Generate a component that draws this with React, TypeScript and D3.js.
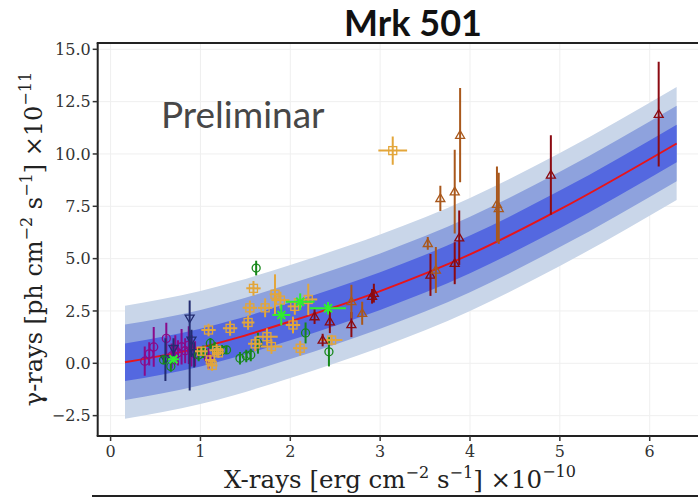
import React from 'react';
import * as d3 from 'd3';

// fit curve
const fitX = [0.16, 1, 1.385, 2, 3, 4, 5, 6.3];
const fitY = [0.05, 0.75, 1.19, 2.0, 3.45, 5.2, 7.35, 10.5];
const bandHalfWidths = [2.7, 1.8, 0.9];
const bandColors = ['#c9d6e9', '#8ea2dd', '#5468e0'];

// [x, y, yerr]
const darkRed = [
    [2.27, 2.23, 0.35], [2.36, 1.11, 0.3], [2.44, 1.99, 0.55], [2.68, 1.85, 0.6],
    [2.91, 3.2, 0.35], [2.93, 3.35, 0.45], [3.56, 4.22, 1.0], [3.83, 4.78, 1.0],
    [3.88, 6.0, 1.3], [4.9, 9.0, 1.9], [6.1, 11.9, 2.5],
];
const brown = [
    [2.68, 2.95, 0.8], [2.8, 2.39, 0.55], [3.53, 5.73, 0.3], [3.62, 4.46, 1.1],
    [3.67, 7.88, 0.6], [3.83, 8.2, 2.0], [3.89, 10.9, 2.25], [4.3, 7.6, 1.8], [4.32, 7.4, 1.7],
];
// [x, y, xerr, yerr]
const orange = [
    [1.01, 0.58, 0.07, 0.2], [1.09, 1.59, 0.08, 0.3], [1.11, 0.16, 0.06, 0.25], [1.13, -0.1, 0.06, 0.25],
    [1.18, 0.62, 0.08, 0.3], [1.2, 0.5, 0.06, 0.25], [1.33, 1.67, 0.08, 0.35], [1.53, 1.95, 0.07, 0.35],
    [1.55, 2.65, 0.08, 0.35], [1.59, 3.58, 0.08, 0.35], [1.61, 0.93, 0.08, 0.35], [1.72, 2.65, 0.08, 0.45],
    [1.74, 1.27, 0.12, 0.4], [1.79, 0.8, 0.12, 0.35], [1.83, 3.3, 0.06, 0.95], [1.89, 3.02, 0.1, 0.4],
    [2.03, 1.83, 0.08, 0.4], [2.05, 2.72, 0.08, 0.4], [2.11, 0.72, 0.08, 0.35], [2.2, 3.05, 0.1, 0.75],
    [2.46, 1.11, 0.12, 0.25], [3.14, 10.16, 0.16, 0.68],
];
const green = [
    [0.59, 0.16, 0.2], [0.67, -0.15, 0.25], [0.98, 0.4, 0.3], [1.03, 0.55, 0.3], [1.11, 0.96, 0.25],
    [1.16, 0.72, 0.3], [1.24, 0.62, 0.25], [1.29, 0.64, 0.2], [1.44, 0.24, 0.3], [1.51, 0.35, 0.3],
    [1.56, 0.4, 0.3], [1.62, 4.55, 0.35], [1.64, 0.96, 0.5], [2.17, 1.45, 0.5], [2.43, 0.55, 0.7],
];
const lime = [
    [0.7, 0.19, 0.06, 0.15], [1.9, 2.31, 0.1, 0.5], [2.11, 2.94, 0.16, 0.4], [2.42, 2.63, 0.2, 0.3],
];
const purple = [
    [0.38, 0.1, 0.7], [0.43, 0.45, 0.55], [0.48, 0.78, 0.95], [0.62, 1.19, 0.75], [0.68, 0.35, 0.6],
    [0.72, 0.64, 0.7], [0.75, 0.5, 0.6], [0.79, 0.79, 0.85], [0.83, 0.6, 0.6], [0.87, 0.87, 0.9],
    [0.9, 0.6, 0.75], [0.94, 0.45, 0.6], [1.09, 0.24, 0.5],
];
// [x, y, low, high]
const navy = [
    [0.61, 0.2, -0.85, 1.2], [0.7, 0.7, 0.2, 1.2], [0.88, 2.15, -1.3, 3.0], [0.9, 1.1, 0.3, 1.6], [0.93, 0.5, -0.2, 1.0],
];

const xTicks = [0, 1, 2, 3, 4, 5, 6];
const yTicks = [-2.5, 0, 2.5, 5, 7.5, 10, 12.5, 15];

const W = 698, H = 498;
const left = 97.7, top = 43, bottom = 436, right = 698;

const App = () => {
    const x = d3.scaleLinear().domain([0, 6]).range([110.6, 649.7]);
    const y = d3.scaleLinear().domain([0, 15]).range([363.3, 49.3]);

    const fit = fitX.map((v, i) => [v, fitY[i]] as [number, number]);
    const line = d3.line<[number, number]>().x(d => x(d[0])).y(d => y(d[1])).curve(d3.curveMonotoneX);
    const band = (k: number) => d3.area<[number, number]>()
        .x(d => x(d[0])).y0(d => y(d[1] - k)).y1(d => y(d[1] + k)).curve(d3.curveMonotoneX)(fit)!;

    const tri = (cx: number, cy: number, up: boolean, s = 4.5) => up
        ? `M${cx},${cy - s}L${cx + s},${cy + s * 0.7}L${cx - s},${cy + s * 0.7}Z`
        : `M${cx},${cy + s}L${cx + s},${cy - s * 0.7}L${cx - s},${cy - s * 0.7}Z`;

    const fmt = d3.format('.1f');
    const serif = 'DejaVu Serif, serif';

    return (
        <svg width={W} height={H} style={{position: 'absolute', left: 0, top: 0, background: '#fff'}}>
            <defs>
                <clipPath id="plot"><rect x={left} y={top} width={right - left} height={bottom - top}/></clipPath>
            </defs>
            {/* grid */}
            <g stroke="#efefef" strokeWidth={1}>
                {xTicks.map(t => <line key={'gx' + t} x1={x(t)} x2={x(t)} y1={top} y2={bottom}/>)}
                {yTicks.map(t => <line key={'gy' + t} x1={left} x2={right} y1={y(t)} y2={y(t)}/>)}
            </g>
            <g clipPath="url(#plot)">
                {bandHalfWidths.map((k, i) => <path key={k} d={band(k)} fill={bandColors[i]}/>)}
                <path d={line(fit)!} fill="none" stroke="#e8141a" strokeWidth={2}/>

                {/* purple circles */}
                <g stroke="#8a0a8a" strokeWidth={2} fill="none">
                    {purple.map((d, i) => <g key={i}>
                        <line x1={x(d[0])} x2={x(d[0])} y1={y(d[1] - d[2])} y2={y(d[1] + d[2])}/>
                        <circle cx={x(d[0])} cy={y(d[1])} r={4} strokeWidth={1.3}/>
                    </g>)}
                </g>
                {/* navy down triangles */}
                <g stroke="#232c70" strokeWidth={2} fill="none">
                    {navy.map((d, i) => <g key={i}>
                        <line x1={x(d[0])} x2={x(d[0])} y1={y(d[2])} y2={y(d[3])}/>
                        <path d={tri(x(d[0]), y(d[1]), false)} strokeWidth={1.3}/>
                    </g>)}
                </g>
                {/* green circles */}
                <g stroke="#17881a" strokeWidth={2} fill="none">
                    {green.map((d, i) => <g key={i}>
                        <line x1={x(d[0])} x2={x(d[0])} y1={y(d[1] - d[2])} y2={y(d[1] + d[2])}/>
                        <circle cx={x(d[0])} cy={y(d[1])} r={4} strokeWidth={1.3}/>
                    </g>)}
                </g>
                {/* orange squares */}
                <g stroke="#e3a63a" strokeWidth={2} fill="none">
                    {orange.map((d, i) => <g key={i}>
                        <line x1={x(d[0])} x2={x(d[0])} y1={y(d[1] - d[3])} y2={y(d[1] + d[3])}/>
                        <line x1={x(d[0] - d[2])} x2={x(d[0] + d[2])} y1={y(d[1])} y2={y(d[1])}/>
                        <rect x={x(d[0]) - 4} y={y(d[1]) - 4} width={8} height={8} strokeWidth={1.3}/>
                    </g>)}
                </g>
                {/* dark red triangles */}
                <g stroke="#8b0a12" strokeWidth={2} fill="none">
                    {darkRed.map((d, i) => <g key={i}>
                        <line x1={x(d[0])} x2={x(d[0])} y1={y(d[1] - d[2])} y2={y(d[1] + d[2])}/>
                        <path d={tri(x(d[0]), y(d[1]), true)} strokeWidth={1.3}/>
                    </g>)}
                </g>
                {/* brown triangles */}
                <g stroke="#a9581c" strokeWidth={2} fill="none">
                    {brown.map((d, i) => <g key={i}>
                        <line x1={x(d[0])} x2={x(d[0])} y1={y(d[1] - d[2])} y2={y(d[1] + d[2])}/>
                        <path d={tri(x(d[0]), y(d[1]), true)} strokeWidth={1.3}/>
                    </g>)}
                </g>
                {/* bright green crosses */}
                <g stroke="#2ef02e" strokeWidth={2} fill="none">
                    {lime.map((d, i) => <g key={i}>
                        <line x1={x(d[0])} x2={x(d[0])} y1={y(d[1] - d[3])} y2={y(d[1] + d[3])}/>
                        <line x1={x(d[0] - d[2])} x2={x(d[0] + d[2])} y1={y(d[1])} y2={y(d[1])}/>
                        <path d={`M${x(d[0]) - 4},${y(d[1]) - 4}L${x(d[0]) + 4},${y(d[1]) + 4}M${x(d[0]) - 4},${y(d[1]) + 4}L${x(d[0]) + 4},${y(d[1]) - 4}`}/>
                    </g>)}
                </g>
            </g>

            {/* frame */}
            <line x1={left - 1} x2={right} y1={top} y2={top} stroke="#222" strokeWidth={2}/>
            <line x1={left} x2={left} y1={top} y2={bottom} stroke="#222" strokeWidth={2}/>
            <line x1={left - 1} x2={right} y1={bottom} y2={bottom} stroke="#222" strokeWidth={2}/>
            <line x1={92} x2={right} y1={496} y2={496} stroke="#222" strokeWidth={2}/>

            {/* ticks */}
            <g fontFamily={serif} fontSize={16} fill="#333">
                {yTicks.map(t => <g key={'ty' + t}>
                    <line x1={left - 5} x2={left} y1={y(t)} y2={y(t)} stroke="#333" strokeWidth={1.5}/>
                    <text x={left - 7} y={y(t)} dy="0.35em" textAnchor="end">{fmt(t)}</text>
                </g>)}
                {xTicks.map(t => <g key={'tx' + t}>
                    <line x1={x(t)} x2={x(t)} y1={bottom} y2={bottom + 5} stroke="#333" strokeWidth={1.5}/>
                    <text x={x(t)} y={bottom + 21} textAnchor="middle">{t}</text>
                </g>)}
            </g>

            {/* axis labels */}
            <text x={400} y={488} textAnchor="middle" fontFamily={serif} fontSize={24.5} fill="#222">
                X-rays [erg cm<tspan dy={-10} fontSize={16}>−2</tspan><tspan dy={10}> s</tspan><tspan dy={-10} fontSize={16}>−1</tspan><tspan dy={10}>] ×10</tspan><tspan dy={-11} fontSize={16}>−10</tspan>
            </text>
            <text transform="translate(42,239) rotate(-90)" textAnchor="middle" fontFamily={serif} fontSize={24} fill="#222">
                γ-rays [ph cm<tspan dy={-10} fontSize={16}>−2</tspan><tspan dy={10}> s</tspan><tspan dy={-10} fontSize={16}>−1</tspan><tspan dy={10}>] ×10</tspan><tspan dy={-11} fontSize={16}>−11</tspan>
            </text>

            <text x={413} y={36} textAnchor="middle" fontFamily="Lato, sans-serif" fontWeight="bold" fontSize={36} fill="#111">Mrk 501</text>
            <text x={161} y={128} fontFamily="Lato, sans-serif" fontSize={37} fill="#474747">Preliminar</text>
        </svg>
    );
};

export default App;
